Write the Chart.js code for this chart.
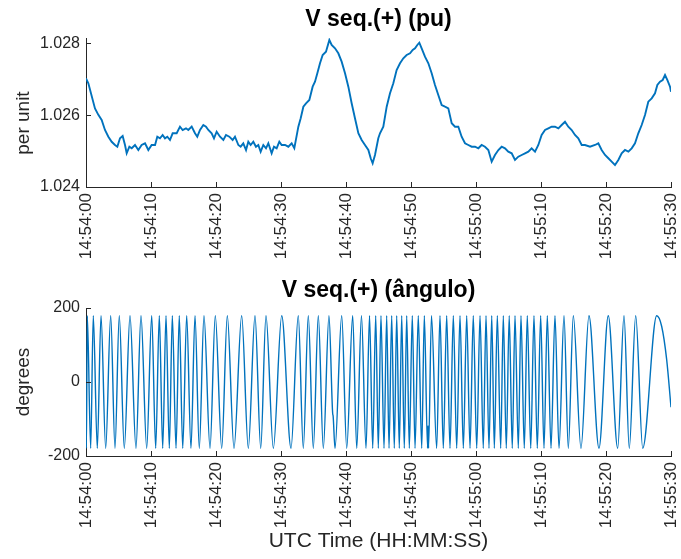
<!DOCTYPE html>
<html><head><meta charset="utf-8">
<script src="https://cdn.jsdelivr.net/npm/chart.js@4.4.1/dist/chart.umd.min.js"></script>
<style>
html,body{margin:0;padding:0;background:#fff;}
#wrap{position:relative;width:681px;height:559px;overflow:hidden;}
#c1{position:absolute;left:0;top:0;}
#c2{position:absolute;left:0;top:270px;}
</style></head><body>
<div id="wrap">
<canvas id="c1" width="681" height="270"></canvas>
<canvas id="c2" width="681" height="289"></canvas>
</div>
<script>
// ---- data (seconds after 14:54:00) ----
const timeTickSeconds = [0,10,20,30,40,50,60,70,80,90];
const timeTickLabels = ['14:54:00','14:54:10','14:54:20','14:54:30','14:54:40','14:54:50','14:55:00','14:55:10','14:55:20','14:55:30'];

const puTicks = [1.024, 1.026, 1.028];
const puTimes = [0,0.36,1.38,1.9,2.41,2.92,3.44,3.95,4.46,4.82,5.23,5.64,6.0,6.26,6.67,7.03,7.54,8.05,8.56,9.08,9.59,10.1,10.62,10.97,11.38,11.79,12.15,12.51,12.92,13.33,13.95,14.46,14.87,15.38,15.74,16.26,16.77,17.12,17.54,18.05,18.46,18.82,19.33,19.69,20.1,20.62,21.13,21.54,22.05,22.56,22.92,23.44,23.79,24.2,24.62,24.97,25.33,25.74,26.15,26.51,26.87,27.28,27.69,28.05,28.56,28.92,29.33,29.74,30.1,30.62,31.13,31.64,32.05,
  32.67,33.03,33.44,33.85,34.36,34.87,35.23,35.59,36.0,36.41,36.92,37.44,37.79,38.31,38.82,39.33,39.85,40.36,40.87,41.38,41.9,42.41,42.92,43.44,43.8,44.1,44.46,44.97,
  45.23,45.74,46.26,46.77,47.28,47.79,48.31,48.82,49.33,49.85,50.26,50.62,50.97,51.28,51.64,52.15,52.67,53.18,53.69,54.2,54.72,55.23,55.74,56.26,56.77,57.28,57.79,58.31,58.82,59.33,59.85,60.36,60.87,61.38,61.9,62.41,62.92,63.44,63.95,64.46,64.97,65.49,66.0,66.51,67.03,67.54,68.05,68.56,69.08,69.59,70.1,70.62,71.13,71.64,72.15,72.67,73.18,73.69,74.2,74.72,75.23,75.74,76.26,76.77,77.54,78.31,78.82,79.33,79.85,80.36,80.87,81.38,81.9,82.41,82.92,83.44,83.95,84.46,84.97,85.49,86.0,86.51,87.03,87.54,87.9,88.31,88.72,89.08,89.43,89.85,90];
const puValues = [1.02703,1.02689,1.02619,1.02601,1.02587,1.02559,1.02540,1.02526,1.02517,1.025123,1.025357,1.025422,1.025171,1.024939,1.025123,1.025079,1.025171,1.025031,1.025171,1.025218,1.025031,1.025171,1.025171,1.025402,1.025357,1.025449,1.025357,1.025402,1.02531,1.025497,1.025497,1.025681,1.025589,1.025636,1.025589,1.025681,1.025497,1.025402,1.025589,1.025728,1.025681,1.025589,1.025497,1.025357,1.025542,1.025402,1.02531,1.025449,1.025402,1.02531,1.025402,1.025171,1.025123,1.025218,1.025031,1.025263,1.025171,1.025263,1.025123,1.025171,1.024984,1.025171,1.025079,1.025218,1.024939,1.025123,1.025079,1.025263,1.025171,1.025171,1.025123,1.025218,1.025079,
  1.025681,1.025915,1.026238,1.026333,1.026425,1.026796,1.026935,1.027169,1.027448,1.027679,1.027771,1.028098,1.027958,1.027866,1.027727,1.027493,1.027169,1.026796,1.026333,1.025915,1.025497,1.02531,1.025171,1.025031,1.0248,1.024661,1.024892,1.025357,
  1.025497,1.025681,1.026238,1.026612,1.026891,1.027261,1.027448,1.027587,1.027679,1.027727,1.027819,1.027866,1.027958,1.028022,1.027866,1.027632,1.027448,1.027169,1.026843,1.026564,1.026286,1.026238,1.026194,1.025776,1.025681,1.025681,1.025402,1.025218,1.025171,1.025123,1.025123,1.025079,1.025171,1.025123,1.025031,1.024705,1.024892,1.025031,1.025123,1.025079,1.024984,1.024939,1.024753,1.024845,1.024892,1.024939,1.024984,1.025079,1.024984,1.025171,1.025449,1.025589,1.025636,1.025681,1.025681,1.025636,1.025728,1.02582,1.025681,1.025589,1.025449,1.025357,1.025171,1.025171,1.025123,1.025171,1.025218,1.025031,1.024892,1.0248,1.024705,1.024613,1.024753,1.024939,1.025031,1.024984,1.025079,1.025218,1.025497,1.025728,1.026007,1.026378,1.026472,1.026612,1.026843,1.026935,1.026983,1.027122,1.026983,1.026796,1.026656];

const angleTicks = [-200, 0, 200];
// [seconds, degrees] at each turning point of the angle trace
const angleSamples = [[0,-50],[0.06,-179],[0.20,179],[0.72,-179],[1.12,179],[1.74,-179],[2.31,179],[3.03,-179],[3.80,179],[4.46,-179],[5.12,179],[5.89,-179],[6.77,179],[7.69,-179],[8.46,179],[9.34,-179],[10.11,179],[10.72,-179],[11.28,179],[11.80,-179],[12.31,179],[12.82,-179],[13.28,179],[13.85,-179],[14.35,179],[14.88,-179],[15.49,179],[16.15,-179],[16.77,179],[17.43,-179],[18.15,179],[19.08,-179],[19.89,179],[20.88,-179],[21.74,179],[22.77,-179],[23.95,179],[24.97,-179],[26.00,179],[26.88,-179],[27.69,179],[28.82,-179],[30.11,179],[31.54,-179],[32.66,179],[33.43,-179],[34.20,179],[34.97,-179],[35.74,179],[36.51,-179],[37.38,179],[37.95,-85],[38.02,-92],[38.31,-179],[39.34,179],[40.11,-179],[41.03,179],[41.65,-179],[42.38,179],[43.08,-179],[43.62,179],[44.11,-179],[44.57,179],[44.97,-179],[45.38,179],[45.85,-179],[46.26,179],[46.62,-179],[47.03,179],[47.43,-179],[47.80,179],[48.20,-179],[48.57,179],[48.97,-179],[49.34,179],[49.74,-179],[50.20,179],[50.62,-179],[51.12,179],[51.65,-179],[52.05,179],[52.55,-179],[52.62,-118],[52.70,-179],[53.15,179],[53.95,-179],[54.46,179],[54.97,-179],[55.49,179],[56.00,-179],[56.51,179],[57.03,-179],[57.54,179],[58.05,-179],[58.57,179],[59.08,-179],[59.58,179],[60.11,-179],[60.62,179],[61.12,-179],[61.54,179],[62.00,-179],[62.42,179],[62.82,-179],[63.28,179],[63.80,-179],[64.20,179],[64.66,-179],[65.11,179],[65.58,-179],[66.00,179],[66.51,-179],[66.92,179],[67.43,-179],[67.89,179],[68.42,-179],[68.92,179],[69.43,-179],[69.95,179],[70.46,-179],[70.97,179],[71.54,-179],[72.15,179],[72.77,-179],[73.54,179],[74.20,-179],[74.97,179],[76.15,-179],[77.38,179],[78.92,-179],[80.35,179],[81.80,-179],[82.77,179],[83.58,-179],[84.57,179],[85.65,-179],[87.80,179],[88.57,150],[89.33,61],[90.00,-68]];

// ---- styling ----
const FONT = "'Liberation Sans', Arial, Helvetica, sans-serif";
const AX = '#262626';
const LINE = '#0072BD';

const inwardTicks = {
  id: 'inwardTicks',
  afterDatasetsDraw(chart) {
    const ctx = chart.ctx, a = chart.chartArea;
    const xs = chart.scales.x, ys = chart.scales.y;
    ctx.save();
    ctx.strokeStyle = AX; ctx.lineWidth = 1;
    xs.ticks.forEach(t => {
      const p = Math.round(xs.getPixelForValue(t.value)) + 0.5;
      ctx.beginPath(); ctx.moveTo(p, a.bottom); ctx.lineTo(p, a.bottom - 5); ctx.stroke();
    });
    ys.ticks.forEach(t => {
      const p = Math.round(ys.getPixelForValue(t.value)) + 0.5;
      ctx.beginPath(); ctx.moveTo(a.left, p); ctx.lineTo(a.left + 5, p); ctx.stroke();
    });
    ctx.restore();
  }
};

function xScale(height, withTitle) {
  return {
    type: 'linear', min: 0, max: 90,
    afterBuildTicks: s => { s.ticks = timeTickSeconds.map(v => ({value: v})); },
    afterFit: s => { s.height = height; s.paddingLeft = 0; s.paddingRight = 0; },
    grid: {display: false, drawTicks: false},
    border: {display: true, color: AX, width: 1},
    ticks: {autoSkip: false, minRotation: 90, maxRotation: 90, padding: 6,
      font: {family: FONT, size: 17}, color: AX,
      callback: v => timeTickLabels[timeTickSeconds.indexOf(v)]},
    title: withTitle ? {display: true, text: 'UTC Time (HH:MM:SS)', font: {family: FONT, size: 21}, color: AX, padding: {top: 0, bottom: 5.4}} : {display: false}
  };
}

function yScale(min, max, ticks, fmt, label) {
  return {
    min: min, max: max,
    afterBuildTicks: s => { s.ticks = ticks.map(v => ({value: v})); },
    afterFit: s => { s.width = 86; s.paddingTop = 0; s.paddingBottom = 0; },
    grid: {display: false, drawTicks: false},
    border: {display: true, color: AX, width: 1},
    ticks: {padding: 6, font: {family: FONT, size: 16}, color: AX, callback: fmt},
    title: {display: true, text: label, font: {family: FONT, size: 19}, color: AX, padding: {top: 12.6, bottom: 0}}
  };
}

Chart.defaults.font.family = FONT;

new Chart(document.getElementById('c1'), {
  type: 'line',
  data: {datasets: [{
    data: puTimes.map((t, i) => ({x: t, y: puValues[i]})),
    borderColor: LINE, borderWidth: 1.9, pointRadius: 0, tension: 0, fill: false
  }]},
  options: {
    responsive: false, animation: false, events: [],
    layout: {padding: {left: 0, right: 10, top: 0, bottom: 0}},
    plugins: {legend: {display: false}, tooltip: {enabled: false},
      title: {display: true, text: 'V seq.(+) (pu)', fullSize: false, color: '#000',
        font: {family: FONT, size: 23, weight: 'bold'}, padding: {top: 6.2, bottom: 4.2}}},
    scales: {
      x: xScale(83, false),
      y: yScale(1.024, 1.028153, puTicks, v => v.toFixed(3), 'per unit    ')
    }
  },
  plugins: [inwardTicks]
});

new Chart(document.getElementById('c2'), {
  type: 'line',
  data: {datasets: [{
    data: angleSamples.map(p => ({x: p[0], y: p[1]})),
    borderColor: LINE, borderWidth: 1.4, pointRadius: 0, cubicInterpolationMode: 'monotone', fill: false
  }]},
  options: {
    responsive: false, animation: false, events: [],
    layout: {padding: {left: 0, right: 10, top: 0, bottom: 0}},
    plugins: {legend: {display: false}, tooltip: {enabled: false},
      title: {display: true, text: 'V seq.(+) (ângulo)', fullSize: false, color: '#000',
        font: {family: FONT, size: 23, weight: 'bold'}, padding: {top: 7.2, bottom: 3.2}}},
    scales: {
      x: xScale(103, true),
      y: yScale(-200, 200, angleTicks, v => String(v), 'degrees')
    }
  },
  plugins: [inwardTicks]
});
</script>
</body></html>
